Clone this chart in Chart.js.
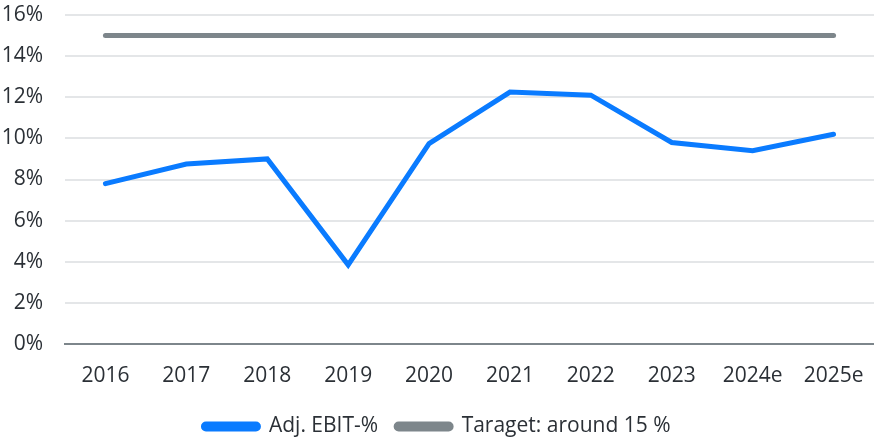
<!DOCTYPE html>
<html>
<head>
<meta charset="utf-8">
<script src="https://cdn.jsdelivr.net/npm/chart.js@4"></script>
<style>
  html, body { margin: 0; padding: 0; background: #fff; }
  #wrap { width: 874px; height: 437px; position: relative; }
</style>
</head>
<body>
<div id="wrap"><canvas id="c"></canvas></div>
<script>
// values
const years = ['2016', '2017', '2018', '2019', '2020', '2021', '2022', '2023', '2024e', '2025e'];
const adjEbit = [7.8, 8.75, 9.0, 3.85, 9.75, 12.25, 12.1, 9.8, 9.4, 10.2];
const target = [15, 15, 15, 15, 15, 15, 15, 15, 15, 15];
const yTicks = [0, 2, 4, 6, 8, 10, 12, 14, 16];

const TEXT = '#2b3036';
const BLUE = '#0a7bff';
const GREY = '#7d868b';
const FONT = "'Open Sans', sans-serif";

new Chart(document.getElementById('c'), {
  type: 'line',
  data: {
    labels: years,
    datasets: [
      { label: 'Adj. EBIT-%', data: adjEbit, borderColor: BLUE, backgroundColor: BLUE,
        borderWidth: 5, pointRadius: 0, borderCapStyle: 'round', tension: 0 },
      { label: 'Taraget: around 15 %', data: target, borderColor: GREY, backgroundColor: GREY,
        borderWidth: 5, pointRadius: 0, borderCapStyle: 'round', tension: 0 }
    ]
  },
  options: {
    responsive: true, maintainAspectRatio: false, animation: false,
    layout: { padding: { top: 15, right: 0, left: 0, bottom: -10 } },
    plugins: {
      tooltip: { enabled: false },
      legend: {
        position: 'bottom',
        labels: {
          color: TEXT, font: { family: FONT, size: 21 },
          boxWidth: 55, boxHeight: 5, padding: 18,
          useBorderRadius: true, borderRadius: 2.5
        }
      }
    },
    scales: {
      x: {
        offset: true,
        afterFit: s => { s.height = 54; s.paddingLeft = 0; s.paddingRight = 0; },
        grid: { display: false, drawTicks: false },
        border: { display: true, color: GREY, width: 2 },
        ticks: { color: TEXT, font: { family: FONT, size: 21 }, padding: 19, maxRotation: 0 }
      },
      y: {
        min: 0, max: 16,
        afterFit: s => { s.width = 65; s.paddingTop = 0; s.paddingBottom = 0; },
        afterBuildTicks: s => { s.ticks = yTicks.map(v => ({ value: v })); },
        grid: { color: '#e4e6e8', lineWidth: 2, drawTicks: false },
        border: { display: false },
        ticks: { color: TEXT, font: { family: FONT, size: 21 }, padding: 22,
                 callback: v => v + '%' }
      }
    }
  }
});
</script>
</body>
</html>
